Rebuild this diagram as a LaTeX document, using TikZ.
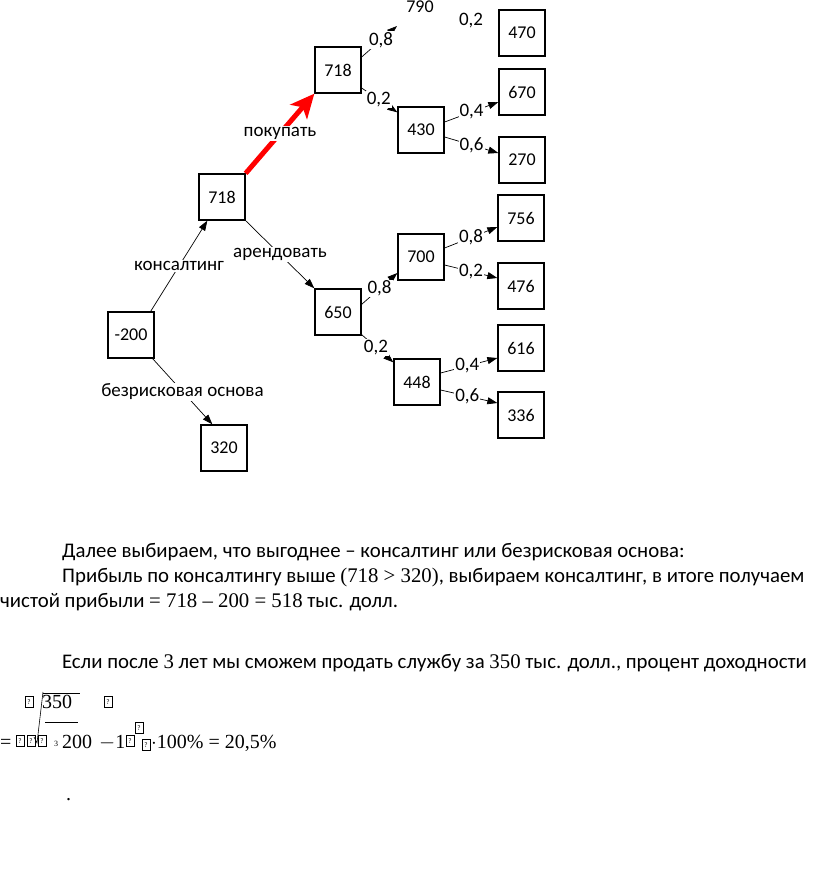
\documentclass[tikz,border=0pt]{standalone}
\usepackage{fontspec}
\setmainfont{Carlito}
\newfontfamily\tnr{Liberation Serif}
\usetikzlibrary{arrows.meta}

\begin{document}
\begin{tikzpicture}[x=1pt, y=-1pt, >={Triangle[length=10pt,width=7pt]},
  box/.style={draw, line width=1.3pt, minimum width=46pt, minimum height=46pt, inner sep=0pt, font=\fontsize{18}{18}\selectfont},
  lab/.style={fill=white, text=black, inner sep=1pt, font=\fontsize{19}{19}\selectfont},
  link/.style={->, line width=0.7pt},
  buy/.style={-{Stealth[length=24pt,width=22pt,inset=6pt]}, line width=5pt, red},
  txt/.style={anchor=base west, inner sep=0pt, font=\fontsize{20.8}{20.8}\selectfont},
  frm/.style={anchor=base west, inner sep=0pt, font=\tnr\fontsize{20}{20}\selectfont},
  nobox/.style={draw, line width=0.4pt, inner sep=0pt, minimum width=8pt, minimum height=11pt, font=\fontsize{7}{7}\selectfont}
]
\useasboundingbox (0,0) rectangle (816,871);

% tree
\node[box] (root) at (131,335) {-200};
\node[box] (r320) at (224,448) {320};
\node[box] (k718) at (222,197) {718};
\node[box] (b718) at (338,70) {718};
\node[box] (k650) at (338,312) {650};
\node[box] (n430) at (421,130) {430};
\node[box] (n700) at (421,257) {700};
\node[box] (n448) at (417,382) {448};
\node[box] (n470) at (522,33) {470};
\node[box] (n670) at (522,92) {670};
\node[box] (n270) at (522,160) {270};
\node[box] (n756) at (521,218) {756};
\node[box] (n476) at (521,286) {476};
\node[box] (n616) at (521,348) {616};
\node[box] (n336) at (521,415) {336};
\node[font=\fontsize{18}{18}\selectfont] (v790) at (420,7) {790};
\node[font=\fontsize{19}{19}\selectfont] (p02) at (471,21) {0,2};
\coordinate (c790) at (397,26);

\draw[link] ([xshift=-4pt]root.north east) -- node[lab, midway] (lk) {консалтинг} ([xshift=9pt]k718.south west);
\draw[link] ([xshift=-2pt]root.south east) -- node[lab, midway] (lb) {безрисковая основа} ([xshift=12pt]r320.north west);
\draw[link] (k718.south east) -- node[lab, midway] (la) {арендовать} (k650.north west);
\draw[buy] (k718.north east) -- node[lab, midway] (lp) {покупать} (b718.south west);

\draw[link] ([yshift=13pt]b718.east) -- node[lab, pos=.55] {0,8} (c790);
\draw[link] ([yshift=-18pt]b718.east) -- node[lab, pos=.48] {0,2} ([yshift=-6pt]n430.north west);
\draw[link] ([yshift=8pt]n430.east) -- node[lab, midway] {0,4} ([yshift=-10pt]n670.west);
\draw[link] ([yshift=-7pt]n430.east) -- node[lab, midway] {0,6} ([yshift=7pt]n270.west);
\draw[link] ([yshift=-16pt]k650.north east) -- node[lab, midway] {0,8} ([yshift=-16pt]n700.west);
\draw[link] ([yshift=1pt]k650.south east) -- node[lab, pos=.45] {0,2} ([yshift=-4pt]n448.north west);
\draw[link] ([yshift=9pt]n700.east) -- node[lab, midway] {0,8} ([yshift=-9pt]n756.west);
\draw[link] ([yshift=-8pt]n700.east) -- node[lab, midway] {0,2} ([yshift=8pt]n476.west);
\draw[link] ([yshift=9pt]n448.east) -- node[lab, pos=.47] {0,4} ([yshift=-10pt]n616.west);
\draw[link] ([yshift=-8pt]n448.east) -- node[lab, pos=.47] {0,6} ([yshift=12pt]n336.west);

% text
\node[txt] (t1) at (62,557) {Далее выбираем, что выгоднее – консалтинг или безрисковая основа:};
\node[txt] (t2) at (62,582) {Прибыль по консалтингу выше {\tnr(718 > 320)}, выбираем консалтинг, в итоге получаем};
\node[txt] (t3) at (0,607) {чистой прибыли {\tnr= 718 – 200 = 518} тыс. долл.};
\node[txt] (t4) at (62,668) {Если после {\tnr 3} лет мы сможем продать службу за {\tnr 350} тыс. долл., процент доходности};

% formula
\node[nobox] (q1) at (29,702) {?};
\node[frm] (f350) at (42,708) {350};
\node[nobox] (q2) at (108,702) {?};
\draw[line width=0.6pt] (43,693) -- (80,693);
\draw[line width=0.8pt] (45,722) -- (78,722);
\draw[line width=0.6pt] (43,692) -- (37,743) -- (34,737);
\node[frm] (feq) at (0,748) {=};
\node[nobox] (q3) at (20,741) {?};
\node[nobox] (q4) at (31,741) {?};
\node[nobox] (q5) at (42,741) {?};
\node[frm, font=\tnr\fontsize{8}{8}\selectfont] (f3) at (54,746) {3};
\node[frm] (f200) at (62,748) {200};
\node[frm] (fm1) at (99,748) {$-$1};
\node[nobox] (q6) at (130,741) {?};
\node[nobox] (q7) at (139,728) {?};
\node[nobox] (q8) at (146,745) {?};
\node[frm] (fres) at (151,748) {$\cdot$100\% = 20,5\%};
\node[frm] (fdot) at (66,800) {.};
\end{tikzpicture}
\end{document}
